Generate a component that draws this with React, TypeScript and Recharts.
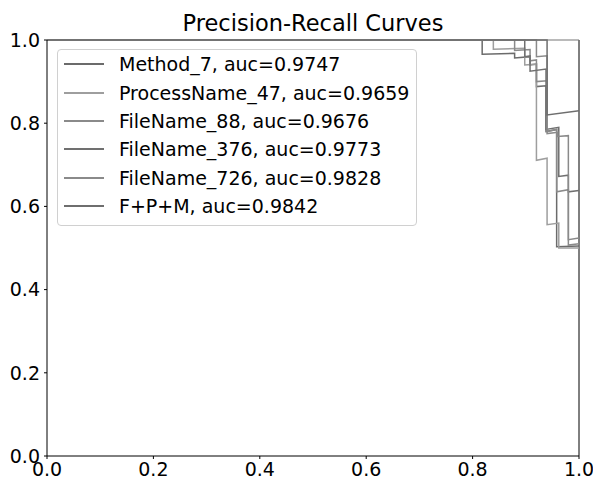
import { LineChart, Line, XAxis, YAxis, ReferenceLine } from 'recharts';

const TICKS = [0, 0.2, 0.4, 0.6, 0.8, 1.0];

const method7Recall = [0, 0.818, 0.818, 0.879, 0.879, 0.908, 0.908, 0.92, 0.92, 0.938, 0.938, 0.958, 0.958, 1.0];
const method7Precision = [1, 1, 0.966, 0.968, 0.957, 0.96, 0.94, 0.942, 0.888, 0.89, 0.78, 0.785, 0.503, 0.505];

const process47Recall = [0, 0.839, 0.839, 0.898, 0.898, 0.92, 0.92, 0.94, 0.94, 0.962, 0.962, 1.0];
const process47Precision = [1, 1, 0.978, 0.98, 0.94, 0.942, 0.711, 0.716, 0.556, 0.56, 0.5, 0.5];

const file88Recall = [0, 0.879, 0.879, 0.908, 0.908, 0.92, 0.92, 0.94, 0.94, 0.958, 0.958, 0.98, 0.98, 1.0];
const file88Precision = [1, 1, 0.975, 0.977, 0.95, 0.952, 0.9, 0.902, 0.78, 0.785, 0.635, 0.64, 0.52, 0.524];

const file376Recall = [0, 0.898, 0.898, 0.908, 0.908, 0.938, 0.938, 0.962, 0.962, 0.98, 0.98, 1.0];
const file376Precision = [1, 1, 0.96, 0.962, 0.925, 0.93, 0.785, 0.79, 0.672, 0.675, 0.635, 0.638];

const file726Recall = [0, 0.92, 0.92, 0.94, 0.94, 0.96, 0.96, 0.98, 0.98, 1.0];
const file726Precision = [1, 1, 0.96, 0.962, 0.775, 0.778, 0.768, 0.77, 0.507, 0.51];

const fpmRecall = [0, 0.94, 0.94, 1.0];
const fpmPrecision = [1, 1, 0.82, 0.83];

const toPoints = (recall: number[], precision: number[]) =>
  recall.map((r, i) => ({ r, p: precision[i] }));

const SERIES = [
  { name: 'Method_7, auc=0.9747', color: '#6b6b6b', data: toPoints(method7Recall, method7Precision) },
  { name: 'ProcessName_47, auc=0.9659', color: '#9e9e9e', data: toPoints(process47Recall, process47Precision) },
  { name: 'FileName_88, auc=0.9676', color: '#8a8a8a', data: toPoints(file88Recall, file88Precision) },
  { name: 'FileName_376, auc=0.9773', color: '#707070', data: toPoints(file376Recall, file376Precision) },
  { name: 'FileName_726, auc=0.9828', color: '#8a8a8a', data: toPoints(file726Recall, file726Precision) },
  { name: 'F+P+M, auc=0.9842', color: '#6e6e6e', data: toPoints(fpmRecall, fpmPrecision) },
];

const FONT = 'DejaVu Sans, sans-serif';
const tickStyle = { fill: '#000', fontSize: 19, fontFamily: FONT };

function PlotLegend() {
  return (
    <div
      style={{
        position: 'absolute',
        left: 57,
        top: 49,
        width: 360,
        height: 177,
        boxSizing: 'border-box',
        border: '1px solid #d0d0d0',
        borderRadius: 4,
        background: 'rgba(255,255,255,0.8)',
        fontFamily: FONT,
        fontSize: 19,
        paddingTop: 0,
      }}
    >
      {SERIES.map((s) => (
        <div key={s.name} style={{ display: 'flex', alignItems: 'center', height: 28.4 }}>
          <div style={{ marginLeft: 6, width: 40, height: 0, borderTop: `2px solid ${s.color}` }} />
          <span style={{ marginLeft: 15, color: '#000', whiteSpace: 'nowrap' }}>{s.name}</span>
        </div>
      ))}
    </div>
  );
}

export default function App() {
  return (
    <div style={{ position: 'absolute', left: 0, top: 0, width: 593, height: 477, background: '#fff' }}>
      <div
        style={{
          position: 'absolute',
          left: 47,
          width: 532,
          top: 10,
          textAlign: 'center',
          fontFamily: FONT,
          fontSize: 22.5,
          color: '#000',
        }}
      >
        Precision-Recall Curves
      </div>
      <LineChart width={593} height={477} margin={{ top: 40, right: 14, bottom: 0, left: 0 }}>
        <XAxis
          type="number"
          dataKey="r"
          domain={[0, 1]}
          ticks={TICKS}
          tickFormatter={(v: number) => v.toFixed(1)}
          height={21}
          tickSize={3}
          tickMargin={4}
          tick={tickStyle}
          stroke="#000"
          interval={0}
        />
        <YAxis
          type="number"
          dataKey="p"
          domain={[0, 1]}
          ticks={TICKS}
          tickFormatter={(v: number) => v.toFixed(1)}
          width={47}
          tickSize={3}
          tickMargin={4}
          tick={tickStyle}
          stroke="#000"
          interval={0}
        />
        <ReferenceLine x={1} stroke="#000" strokeWidth={1} />
        <ReferenceLine y={1} stroke="#777" strokeWidth={1.2} />
        {SERIES.map((s) => (
          <Line
            key={s.name}
            data={s.data}
            dataKey="p"
            type="linear"
            stroke={s.color}
            strokeWidth={1.5}
            dot={false}
            isAnimationActive={false}
          />
        ))}
      </LineChart>
      <PlotLegend />
    </div>
  );
}
